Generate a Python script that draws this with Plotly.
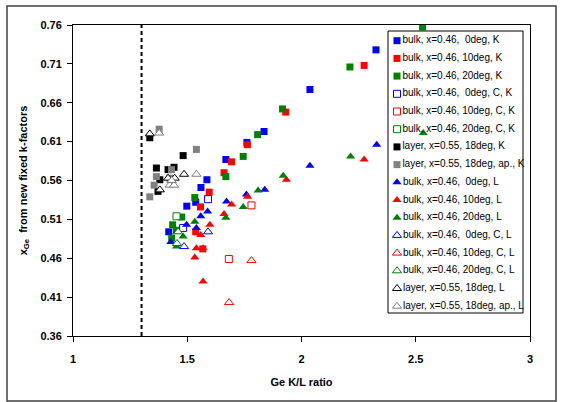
import plotly.graph_objects as go

# ---- data ----
names = [
    "bulk, x=0.46,  0deg, K", "bulk, x=0.46, 10deg, K", "bulk, x=0.46, 20deg, K",
    "bulk, x=0.46,  0deg, C, K", "bulk, x=0.46, 10deg, C, K", "bulk, x=0.46, 20deg, C, K",
    "layer, x=0.55, 18deg, K", "layer, x=0.55, 18deg, ap., K",
    "bulk, x=0.46,  0deg, L", "bulk, x=0.46, 10deg, L", "bulk, x=0.46, 20deg, L",
    "bulk, x=0.46,  0deg, C, L", "bulk, x=0.46, 10deg, C, L", "bulk, x=0.46, 20deg, C, L",
    "layer, x=0.55, 18deg, L", "layer, x=0.55, 18deg, ap., L",
]

b0K_x = [2.326, 2.037, 1.836, 1.761, 1.669, 1.586, 1.560, 1.537, 1.498, 1.419]
b0K_y = [0.728, 0.677, 0.623, 0.609, 0.587, 0.561, 0.551, 0.532, 0.527, 0.494]
b10K_x = [2.274, 1.931, 1.763, 1.694, 1.661, 1.596, 1.558, 1.537, 1.568]
b10K_y = [0.708, 0.648, 0.606, 0.584, 0.570, 0.545, 0.526, 0.494, 0.472]
b20K_x = [2.530, 2.212, 1.917, 1.808, 1.745, 1.669, 1.533, 1.476, 1.436, 1.453, 1.432]
b20K_y = [0.757, 0.706, 0.652, 0.619, 0.591, 0.565, 0.538, 0.513, 0.503, 0.496, 0.486]
b0CK_x = [1.591, 1.482]
b0CK_y = [0.536, 0.499]
b10CK_x = [1.682, 1.781]
b10CK_y = [0.459, 0.528]
b20CK_x = [1.453]
b20CK_y = [0.514]
lK_x = [1.336, 1.482, 1.365, 1.442, 1.416, 1.380, 1.372]
lK_y = [0.615, 0.592, 0.576, 0.577, 0.574, 0.561, 0.546]
lapK_x = [1.377, 1.540, 1.365, 1.423, 1.355, 1.336, 1.431]
lapK_y = [0.626, 0.600, 0.565, 0.563, 0.554, 0.539, 0.574]

b0L_x = [2.329, 2.037, 1.839, 1.759, 1.672, 1.589, 1.559, 1.497, 1.540, 1.428]
b0L_y = [0.606, 0.579, 0.548, 0.542, 0.533, 0.520, 0.514, 0.503, 0.499, 0.481]
b10L_x = [2.274, 1.934, 1.764, 1.694, 1.661, 1.599, 1.559, 1.540, 1.533, 1.569, 1.569]
b10L_y = [0.587, 0.561, 0.539, 0.529, 0.517, 0.503, 0.490, 0.473, 0.461, 0.473, 0.430]
b20L_x = [2.533, 2.215, 1.920, 1.810, 1.745, 1.669, 1.533, 1.453, 1.482, 1.453]
b20L_y = [0.621, 0.591, 0.566, 0.547, 0.526, 0.512, 0.507, 0.494, 0.488, 0.475]
b0CL_x = [1.591, 1.486]
b0CL_y = [0.494, 0.475]
b10CL_x = [1.781, 1.683]
b10CL_y = [0.457, 0.403]
b20CL_x = [1.455, 1.460]
b20CL_y = [0.479, 0.494]
lL_x = [1.486, 1.445, 1.416, 1.380, 1.336]
lL_y = [0.568, 0.563, 0.563, 0.548, 0.620]
lapL_x = [1.540, 1.423, 1.442, 1.432, 1.377]
lapL_y = [0.568, 0.554, 0.554, 0.560, 0.621]

xs = [b0K_x, b10K_x, b20K_x, b0CK_x, b10CK_x, b20CK_x, lK_x, lapK_x,
      b0L_x, b10L_x, b20L_x, b0CL_x, b10CL_x, b20CL_x, lL_x, lapL_x]
ys = [b0K_y, b10K_y, b20K_y, b0CK_y, b10CK_y, b20CK_y, lK_y, lapK_y,
      b0L_y, b10L_y, b20L_y, b0CL_y, b10CL_y, b20CL_y, lL_y, lapL_y]

limit_x = [1.3, 1.3]
limit_y = [0.36, 0.76]

x_ticks = [1, 1.5, 2, 2.5, 3]
x_ticklabels = ["1", "1.5", "2", "2.5", "3"]
y_ticks = [0.36, 0.41, 0.46, 0.51, 0.56, 0.61, 0.66, 0.71, 0.76]

# ---- styles ----
colors = ["#0000FF", "#FF0000", "#008000", "#0000FF", "#FF0000", "#008000", "#000000", "#808080"] * 2

W, H = 562, 402
ML, MR, MT, MB = 73, 32, 25, 66
PW, PH = W - ML - MR, H - MT - MB

# legend box in pixels (left, right, top, bottom) and rows
LB_L, LB_R, LB_T, LB_B = 388, 523, 31, 313
ROW0, ROWSTEP = 40.7, 17.7


def px_to_paper_x(p):
    return (p - ML) / PW


def px_to_paper_y(p):
    return (H - MB - p) / PH


fig = go.Figure()

fig.add_trace(go.Scatter(x=limit_x, y=limit_y, mode="lines", showlegend=False,
                         line=dict(color="black", width=2, dash="4px,3px"), hoverinfo="skip"))


def marker_for(i, c):
    tri = i >= 8
    hollow = (i % 8) in (3, 4, 5) or (tri and (i % 8) in (6, 7))
    sym = "triangle-up" if tri else "square"
    size = 8 if tri else 7
    if hollow:
        return dict(symbol=sym, size=size, color="white", line=dict(color=c, width=1))
    return dict(symbol=sym, size=size, color=c, line=dict(color=c, width=0))


for i, (nm, x, y, c) in enumerate(zip(names, xs, ys, colors)):
    fig.add_trace(go.Scatter(x=x, y=y, mode="markers", name=nm, marker=marker_for(i, c),
                             showlegend=False))

# custom legend (drawn in its own hidden axes so it sits under no data box)
for i, (nm, c) in enumerate(zip(names, colors)):
    fig.add_trace(go.Scatter(x=[9], y=[i], mode="markers+text", text=[nm],
                             textposition="middle right",
                             textfont=dict(size=10, color="black",
                                           family="Liberation Sans, Arial, sans-serif"),
                             marker=marker_for(i, c), showlegend=False, hoverinfo="skip",
                             xaxis="x2", yaxis="y2", cliponaxis=False))

y2_top = -(ROW0 - LB_T) / ROWSTEP
y2_bot = (LB_B - ROW0) / ROWSTEP

fig.update_layout(
    width=W, height=H,
    margin=dict(l=ML, r=MR, t=MT, b=MB, autoexpand=False),
    paper_bgcolor="white", plot_bgcolor="rgba(0,0,0,0)",
    font=dict(family="Liberation Sans, Arial, sans-serif", color="black"),
    showlegend=False,
    xaxis=dict(range=[1, 3], tickvals=x_ticks, ticktext=x_ticklabels,
               showgrid=False, zeroline=False, showline=True, linecolor="black",
               linewidth=1, mirror=True, ticks="outside", ticklen=5, tickcolor="black",
               ticklabelstandoff=8,
               tickfont=dict(size=11, weight="bold"),
               title=dict(text="Ge K/L ratio", font=dict(size=11, weight="bold"), standoff=14)),
    yaxis=dict(range=[0.36, 0.76], tickvals=y_ticks, tickformat=".2f",
               showgrid=False, zeroline=False, showline=True, linecolor="black",
               linewidth=1, mirror=True, ticks="outside", ticklen=5, tickcolor="black",
               ticklabelstandoff=3,
               tickfont=dict(size=11, weight="bold"),
               title=dict(text="x<sub>Ge</sub>  from new fixed k-factors",
                          font=dict(size=11, weight="bold"), standoff=10)),
    xaxis2=dict(domain=[px_to_paper_x(LB_L), px_to_paper_x(LB_R)], range=[0, LB_R - LB_L],
                visible=False, anchor="y2", fixedrange=True),
    yaxis2=dict(domain=[px_to_paper_y(LB_B), px_to_paper_y(LB_T)], range=[y2_bot, y2_top],
                visible=False, anchor="x2", fixedrange=True),
)

# legend box (under the data marks, as in the reference)
fig.add_shape(type="rect", xref="paper", yref="paper",
              x0=px_to_paper_x(LB_L), x1=px_to_paper_x(LB_R),
              y0=px_to_paper_y(LB_B), y1=px_to_paper_y(LB_T),
              line=dict(color="black", width=1), fillcolor="white", layer="below")

# outer chart frame
fig.add_shape(type="rect", xref="paper", yref="paper",
              x0=px_to_paper_x(7), x1=px_to_paper_x(556),
              y0=px_to_paper_y(401), y1=px_to_paper_y(6),
              line=dict(color="#404040", width=1.5), fillcolor="rgba(0,0,0,0)", layer="below")

fig.write_html("out.html")
